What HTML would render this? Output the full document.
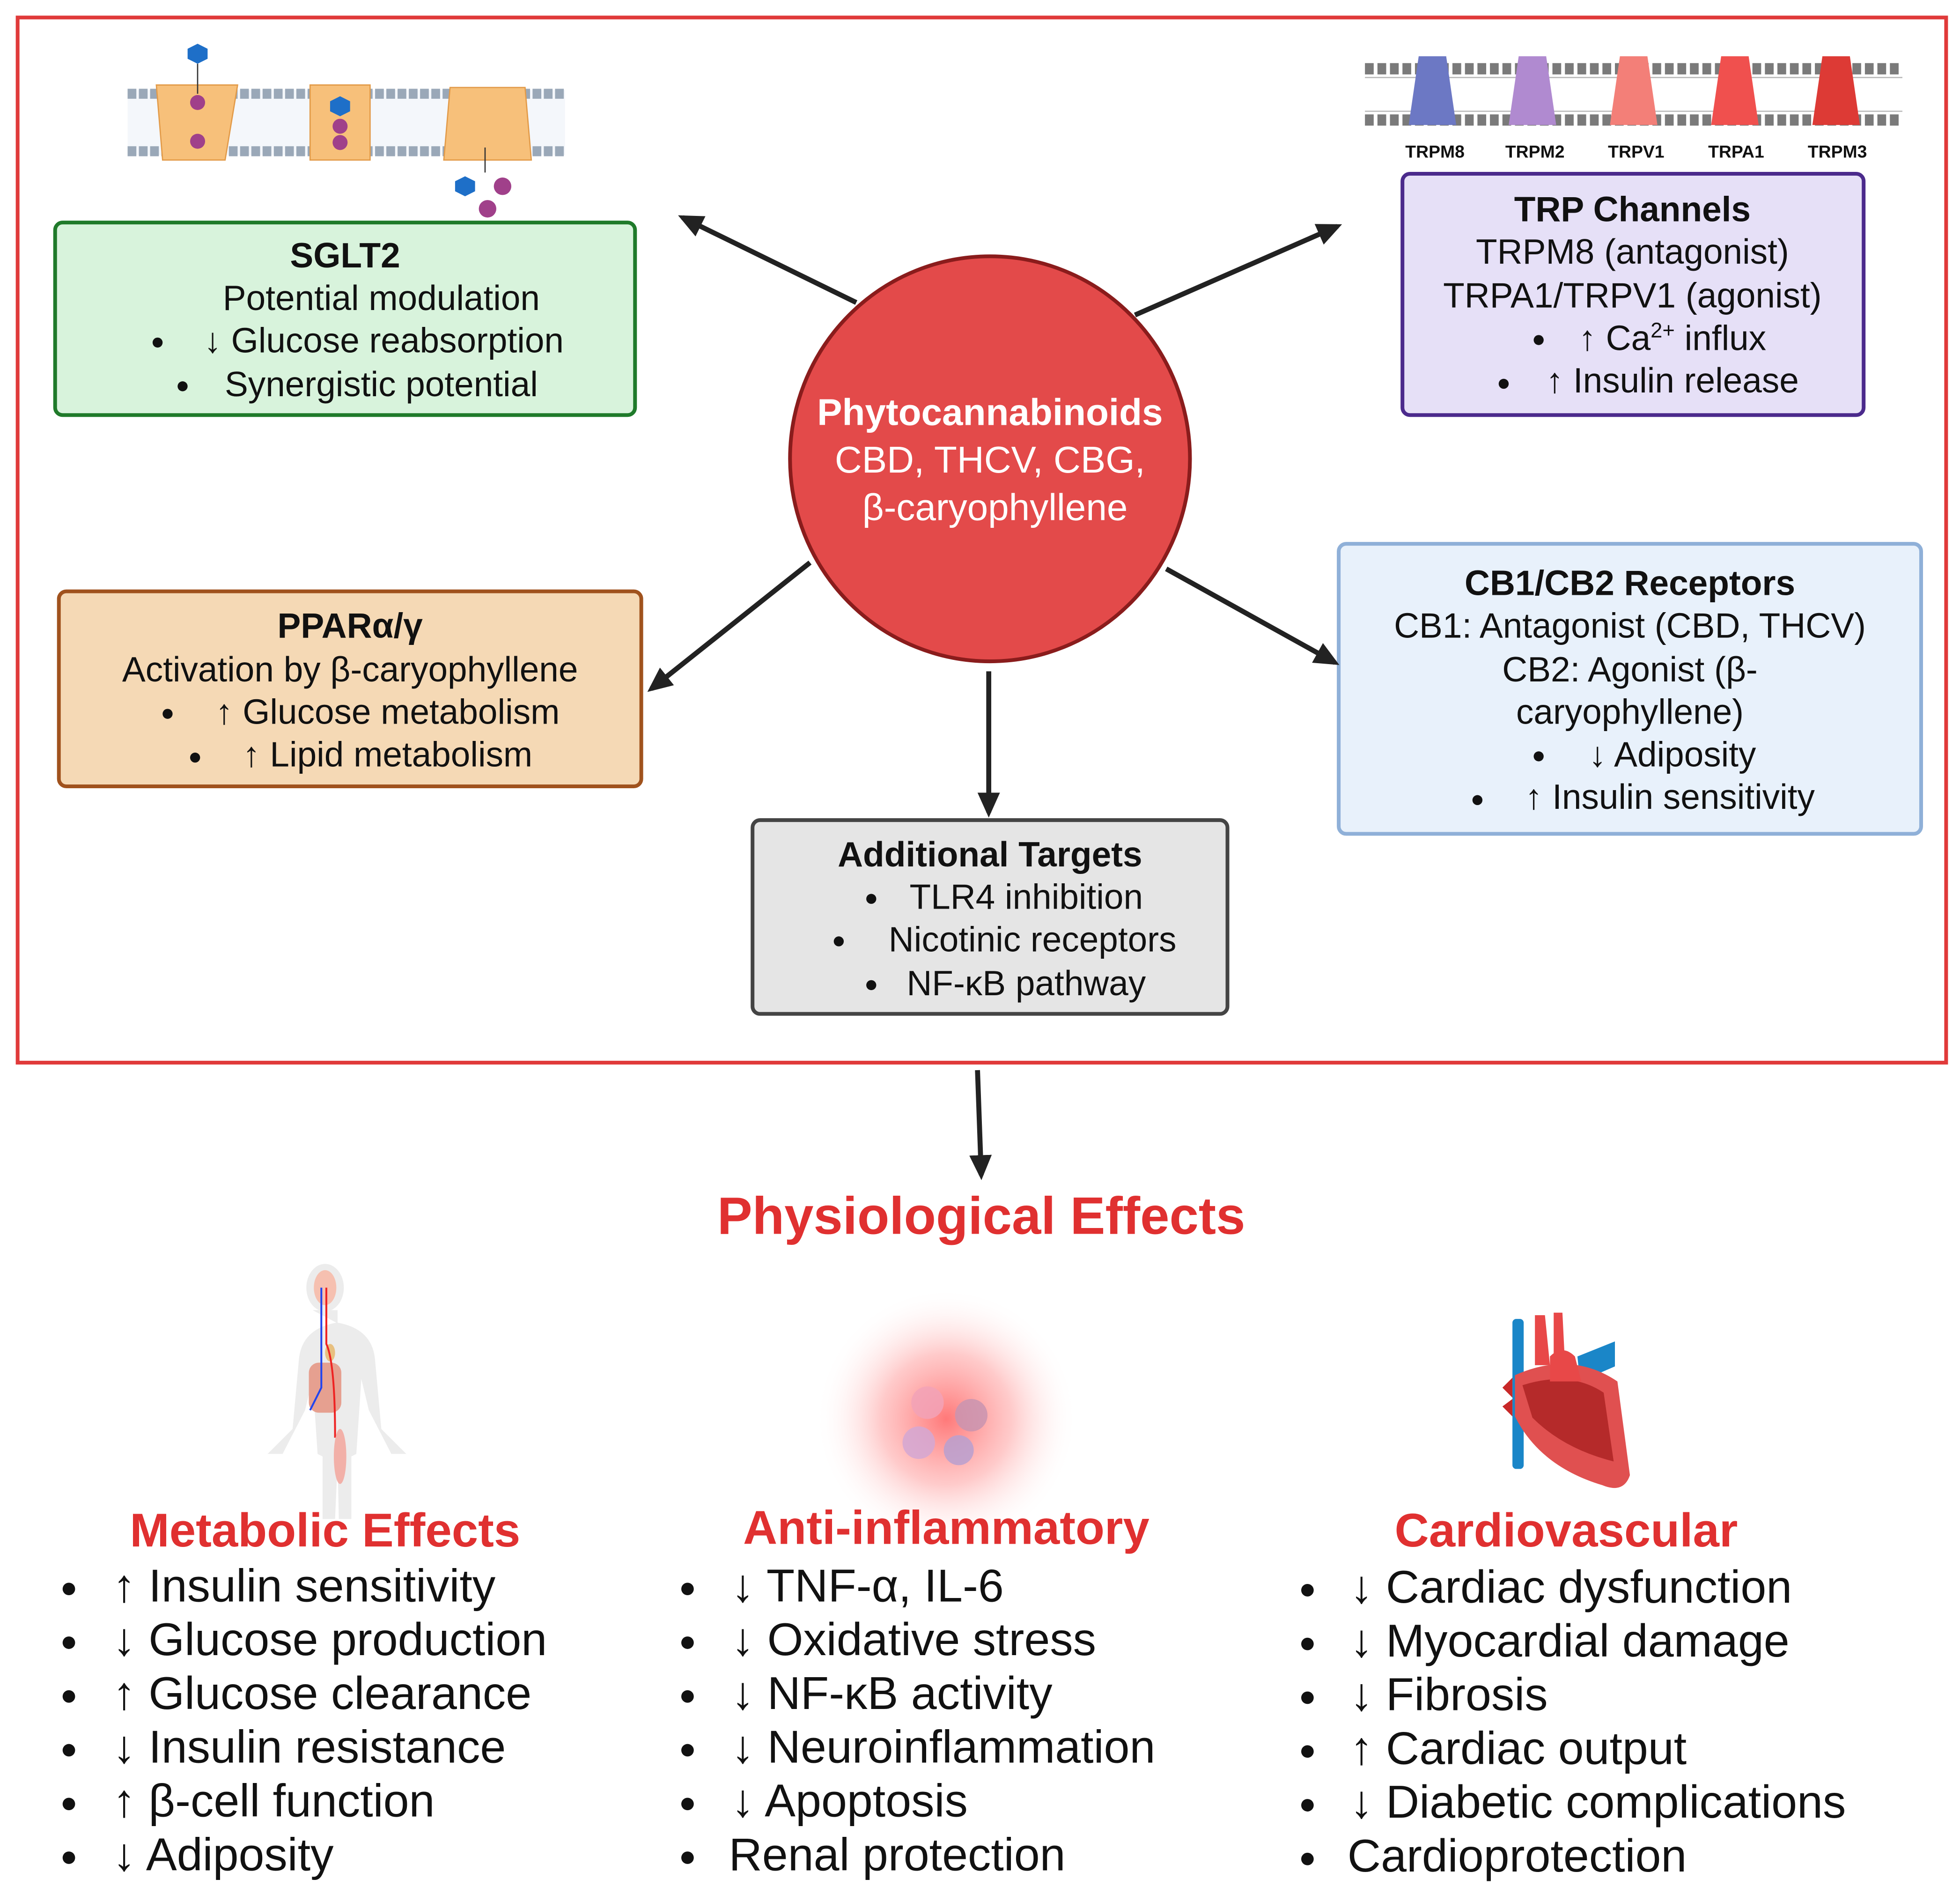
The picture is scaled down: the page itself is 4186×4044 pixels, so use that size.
<!DOCTYPE html>
<html><head><meta charset="utf-8"><style>
html,body{margin:0;padding:0;background:#fff;}
svg{display:block;}
text{font-family:"Liberation Sans",Arial,sans-serif;}
</style></head><body>
<svg width="4186" height="4044" viewBox="0 0 1568 1515" xmlns="http://www.w3.org/2000/svg">
<defs>
<marker id="ah" markerWidth="20" markerHeight="18" refX="16" refY="9" orient="auto" markerUnits="userSpaceOnUse" viewBox="0 0 20 18">
<path d="M0,0 L20,9 L0,18 z" fill="#222"/></marker>
<radialGradient id="glow"><stop offset="0" stop-color="#ff6a6a" stop-opacity="0.9"/><stop offset="0.5" stop-color="#ff8a8a" stop-opacity="0.45"/><stop offset="1" stop-color="#fff" stop-opacity="0"/></radialGradient>
</defs>
<rect width="1568" height="1515" fill="#fff"/>
<rect x="14" y="14" width="1543" height="836" fill="none" stroke="#e03a3a" stroke-width="3"/>

<!-- SGLT2 membrane -->
<g>
<rect x="102" y="72" width="350" height="52" fill="#f4f7fb"/>
<path d="M102 75 H452 M102 121 H452" stroke="#9aa8b8" stroke-width="8" stroke-dasharray="7 2"/>
<path d="M125 68 L190 68 L180 128 L130 128 Z" fill="#f7c07a" stroke="#e29a48"/>
<path d="M248 68 L296 68 L296 128 L248 128 Z" fill="#f7c07a" stroke="#e29a48"/>
<path d="M360 70 L420 70 L425 128 L355 128 Z" fill="#f7c07a" stroke="#e29a48"/>
<circle cx="158" cy="82" r="6" fill="#a0408a"/><circle cx="158" cy="113" r="6" fill="#a0408a"/>
<polygon points="158,35 166,39 166,47 158,51 150,47 150,39" fill="#1e6fc8"/>
<line x1="158" y1="51" x2="158" y2="75" stroke="#333"/>
<polygon points="272,77 280,81 280,89 272,93 264,89 264,81" fill="#1e6fc8"/>
<circle cx="272" cy="101" r="6" fill="#a0408a"/><circle cx="272" cy="114" r="6" fill="#a0408a"/>
<line x1="388" y1="118" x2="388" y2="138" stroke="#333"/>
<polygon points="372,141 380,145 380,153 372,157 364,153 364,145" fill="#1e6fc8"/>
<circle cx="402" cy="149" r="7" fill="#a0408a"/><circle cx="390" cy="167" r="7" fill="#a0408a"/>
</g>

<!-- TRP membrane -->
<g>
<path d="M1092 55 H1522 M1092 96 H1522" stroke="#7a7a7a" stroke-width="9" stroke-dasharray="7 3"/>
<path d="M1092 62 H1522 M1092 89 H1522" stroke="#bbb" stroke-width="1"/>
<path d="M1135 45 h22 l8 55 h-38 z" fill="#6c78c4"/>
<path d="M1215 45 h22 l8 55 h-38 z" fill="#b08ad0"/>
<path d="M1296 45 h22 l8 55 h-38 z" fill="#f37f78"/>
<path d="M1377 45 h22 l8 55 h-38 z" fill="#f0504e"/>
<path d="M1458 45 h22 l8 55 h-38 z" fill="#dd3a35"/>
<g font-size="14" font-weight="bold" text-anchor="middle" fill="#111">
<text x="1148" y="126">TRPM8</text><text x="1228" y="126">TRPM2</text><text x="1309" y="126">TRPV1</text><text x="1389" y="126">TRPA1</text><text x="1470" y="126">TRPM3</text>
</g>
</g>

<!-- boxes -->
<rect x="44" y="178" width="464" height="154" rx="6" fill="#d8f3dc" stroke="#1f7a2a" stroke-width="3"/>
<g font-size="28" text-anchor="middle" fill="#111">
<text x="276" y="214" font-weight="bold">SGLT2</text>
<text x="305" y="248">Potential modulation</text>
<text x="307" y="282">↓ Glucose reabsorption</text>
<text x="305" y="317">Synergistic potential</text>
</g>
<circle cx="126" cy="274" r="4" fill="#111"/><circle cx="146" cy="309" r="4" fill="#111"/>

<rect x="1122" y="139" width="369" height="193" rx="6" fill="#e6e0f7" stroke="#4b2a8c" stroke-width="3"/>
<g font-size="28" text-anchor="middle" fill="#111">
<text x="1306" y="177" font-weight="bold">TRP Channels</text>
<text x="1306" y="211">TRPM8 (antagonist)</text>
<text x="1306" y="246">TRPA1/TRPV1 (agonist)</text>
<text x="1338" y="280">↑ Ca<tspan font-size="17" dy="-10">2+</tspan><tspan dy="10"> influx</tspan></text>
<text x="1338" y="314">↑ Insulin release</text>
</g>
<circle cx="1231" cy="272" r="4" fill="#111"/><circle cx="1203" cy="307" r="4" fill="#111"/>

<rect x="47" y="473" width="466" height="156" rx="6" fill="#f5d9b5" stroke="#a0521d" stroke-width="3"/>
<g font-size="28" text-anchor="middle" fill="#111">
<text x="280" y="510" font-weight="bold">PPARα/γ</text>
<text x="280" y="545">Activation by β-caryophyllene</text>
<text x="310" y="579">↑ Glucose metabolism</text>
<text x="310" y="613">↑ Lipid metabolism</text>
</g>
<circle cx="134" cy="571" r="4" fill="#111"/><circle cx="156" cy="606" r="4" fill="#111"/>

<rect x="1071" y="435" width="466" height="232" rx="6" fill="#e8f1fb" stroke="#8fb0d8" stroke-width="3"/>
<g font-size="28" text-anchor="middle" fill="#111">
<text x="1304" y="476" font-weight="bold">CB1/CB2 Receptors</text>
<text x="1304" y="510">CB1: Antagonist (CBD, THCV)</text>
<text x="1304" y="545">CB2: Agonist (β-</text>
<text x="1304" y="579">caryophyllene)</text>
<text x="1338" y="613">↓ Adiposity</text>
<text x="1336" y="647">↑ Insulin sensitivity</text>
</g>
<circle cx="1231" cy="605" r="4" fill="#111"/><circle cx="1182" cy="640" r="4" fill="#111"/>

<rect x="602" y="656" width="380" height="155" rx="6" fill="#e5e5e5" stroke="#444" stroke-width="3"/>
<g font-size="28" text-anchor="middle" fill="#111">
<text x="792" y="693" font-weight="bold">Additional Targets</text>
<text x="821" y="727">TLR4 inhibition</text>
<text x="826" y="761">Nicotinic receptors</text>
<text x="821" y="796">NF-κB pathway</text>
</g>
<circle cx="697" cy="719" r="4" fill="#111"/><circle cx="671" cy="753" r="4" fill="#111"/><circle cx="697" cy="788" r="4" fill="#111"/>

<!-- arrows -->
<g stroke="#222" stroke-width="4" marker-end="url(#ah)">
<line x1="685" y1="242" x2="546" y2="174"/>
<line x1="908" y1="252" x2="1070" y2="181"/>
<line x1="648" y1="450" x2="521" y2="551"/>
<line x1="933" y1="455" x2="1068" y2="530"/>
<line x1="791" y1="537" x2="791" y2="650"/>
<line x1="782" y1="856" x2="785" y2="940"/>
</g>

<!-- circle -->
<ellipse cx="792" cy="367" rx="160" ry="162" fill="#e34a4a" stroke="#8a1c1c" stroke-width="3"/>
<g text-anchor="middle" fill="#fff" font-size="30">
<text x="792" y="340" font-weight="bold">Phytocannabinoids</text>
<text x="792" y="378">CBD, THCV, CBG,</text>
<text x="796" y="416">β-caryophyllene</text>
</g>

<text x="785" y="987" font-size="42" font-weight="bold" fill="#e03030" text-anchor="middle">Physiological Effects</text>

<!-- body icon -->
<g>
<ellipse cx="260" cy="1030" rx="15" ry="19" fill="#ececec"/>
<path d="M250 1048 h20 v10 q28 5 30 30 l5 55 l20 20 l-12 0 l-18 -35 l-6 -25 l-4 60 l-4 2 l0 50 h-10 l-1 -45 l-2 45 h-10 l0 -50 l-4 -2 l-4 -60 l-6 25 l-18 35 l-12 0 l20 -20 l5 -55 q2 -25 30 -30 z" fill="#ececec"/>
<ellipse cx="260" cy="1030" rx="9" ry="14" fill="#f6c0b0"/>
<rect x="247" y="1090" width="26" height="40" rx="8" fill="#e6a090"/>
<ellipse cx="264" cy="1082" rx="4" ry="7" fill="#e8c080"/>
<path d="M257 1030 V1110 L248 1128" stroke="#2244ee" stroke-width="1.5" fill="none"/>
<path d="M261 1030 V1075 Q268 1090 268 1150" stroke="#ee2222" stroke-width="1.5" fill="none"/>
<ellipse cx="272" cy="1165" rx="5" ry="22" fill="#f2b0a8"/>
</g>
<!-- inflammation icon -->
<circle cx="757" cy="1135" r="105" fill="url(#glow)"/>
<g opacity="0.85">
<ellipse cx="742" cy="1122" rx="13" ry="13" fill="#f3a3b8"/>
<ellipse cx="777" cy="1132" rx="13" ry="13" fill="#c994b0"/>
<ellipse cx="735" cy="1154" rx="13" ry="13" fill="#d4a8d4"/>
<ellipse cx="767" cy="1160" rx="12" ry="12" fill="#b9a0d0"/>
</g>
<!-- heart icon -->
<g>
<rect x="1210" y="1055" width="9" height="120" rx="3" fill="#1a86c8"/>
<path d="M1228 1052 h8 l4 40 h-12 z M1243 1050 h7 l2 40 h-9 z" fill="#e84848"/>
<path d="M1262 1085 l30 -12 l0 20 l-28 12 z" fill="#1a86c8"/>
<path d="M1202 1110 l8 -8 l0 16 z M1202 1125 l8 -6 l0 14 z" fill="#c82828"/>
<path d="M1212 1100 q45 -20 82 5 l10 75 q-5 15 -22 8 q-50 -15 -70 -55 z" fill="#e05050"/>
<path d="M1218 1108 q38 -12 65 6 l8 55 q-40 -10 -65 -35 z" fill="#b52a2a"/>
<path d="M1240 1085 q10 -10 20 0 l5 20 h-25 z" fill="#e84848"/>
</g>

<!-- columns -->
<g font-size="38" font-weight="bold" fill="#e03030" text-anchor="middle">
<text x="260" y="1237">Metabolic Effects</text>
<text x="757" y="1235">Anti-inflammatory</text>
<text x="1253" y="1237">Cardiovascular</text>
</g>
<g font-size="37" fill="#111">
<text x="90" y="1281">↑ Insulin sensitivity</text>
<text x="90" y="1324">↓ Glucose production</text>
<text x="90" y="1367">↑ Glucose clearance</text>
<text x="90" y="1410">↓ Insulin resistance</text>
<text x="90" y="1453">↑ β-cell function</text>
<text x="90" y="1496">↓ Adiposity</text>
<text x="585" y="1281">↓ TNF-α, IL-6</text>
<text x="585" y="1324">↓ Oxidative stress</text>
<text x="585" y="1367">↓ NF-κB activity</text>
<text x="585" y="1410">↓ Neuroinflammation</text>
<text x="585" y="1453">↓ Apoptosis</text>
<text x="583" y="1496">Renal protection</text>
<text x="1080" y="1282">↓ Cardiac dysfunction</text>
<text x="1080" y="1325">↓ Myocardial damage</text>
<text x="1080" y="1368">↓ Fibrosis</text>
<text x="1080" y="1411">↑ Cardiac output</text>
<text x="1080" y="1454">↓ Diabetic complications</text>
<text x="1078" y="1497">Cardioprotection</text>
</g>
<g fill="#111">
<circle cx="55" cy="1271" r="5"/><circle cx="55" cy="1314" r="5"/><circle cx="55" cy="1357" r="5"/><circle cx="55" cy="1400" r="5"/><circle cx="55" cy="1443" r="5"/><circle cx="55" cy="1486" r="5"/>
<circle cx="550" cy="1271" r="5"/><circle cx="550" cy="1314" r="5"/><circle cx="550" cy="1357" r="5"/><circle cx="550" cy="1400" r="5"/><circle cx="550" cy="1443" r="5"/><circle cx="550" cy="1486" r="5"/>
<circle cx="1046" cy="1272" r="5"/><circle cx="1046" cy="1315" r="5"/><circle cx="1046" cy="1358" r="5"/><circle cx="1046" cy="1401" r="5"/><circle cx="1046" cy="1444" r="5"/><circle cx="1046" cy="1487" r="5"/>
</g>
</svg>
</body></html>
